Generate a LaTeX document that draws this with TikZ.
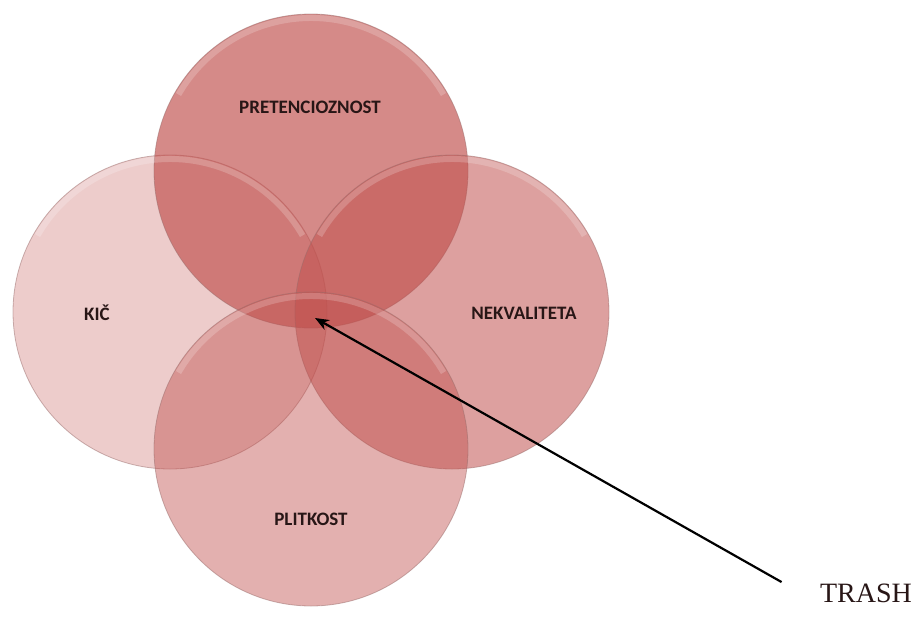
\documentclass[tikz,border=0pt]{standalone}
\usepackage{fontspec}
\newfontfamily\vennfont{Carlito}
\newfontfamily\trashfont{Liberation Serif}
\usetikzlibrary{arrows.meta}
\definecolor{vennred}{RGB}{192,80,77}
\definecolor{venntext}{RGB}{40,22,22}

\begin{document}
\begin{tikzpicture}[x=1pt,y=1pt,
	venn/.style={circle, minimum size=314pt, inner sep=0pt, outer sep=0pt,
		fill=vennred, draw=vennred!40!gray, draw opacity=0.5, line width=0.8pt},
	gloss/.style={white, opacity=0.2, line width=6pt},
	vennlabel/.style={text=venntext, font=\vennfont\bfseries\fontsize{19}{21}\selectfont},
	>={Stealth[length=14pt,width=11pt]}]
\useasboundingbox (0,0) rectangle (922,-619);

%----------------------------
% The four circles
%----------------------------
\node[venn, fill opacity=0.29] (kic)  at (170,-312) {};
\node[venn, fill opacity=0.67] (pret) at (311,-171) {};
\node[venn, fill opacity=0.54] (nekv) at (452,-312) {};
\node[venn, fill opacity=0.45] (plit) at (311,-449) {};

% glossy rim on top of each circle
\foreach \c in {kic,pret,nekv,plit}
	\draw[gloss] (\c.center) ++(150:153) arc[start angle=150, end angle=30, radius=153];

%----------------------------
% Labels
%----------------------------
\node[vennlabel] (pretlabel) at (310,-107) {PRETENCIOZNOST};
\node[vennlabel] (kiclabel)  at (97,-313)  {KIČ};
\node[vennlabel] (nekvlabel) at (524,-313) {NEKVALITETA};
\node[vennlabel] (plitlabel) at (311,-519) {PLITKOST};

%----------------------------
% Arrow: TRASH -> common core
%----------------------------
\node[text=venntext, font=\trashfont\fontsize{28}{30}\selectfont] (trash) at (866,-593) {TRASH};
\coordinate (core) at (315,-318);
\draw[->, line width=2.2pt] ([xshift=-35pt,yshift=-2pt]trash.north west) -- (core);

\end{tikzpicture}
\end{document}
